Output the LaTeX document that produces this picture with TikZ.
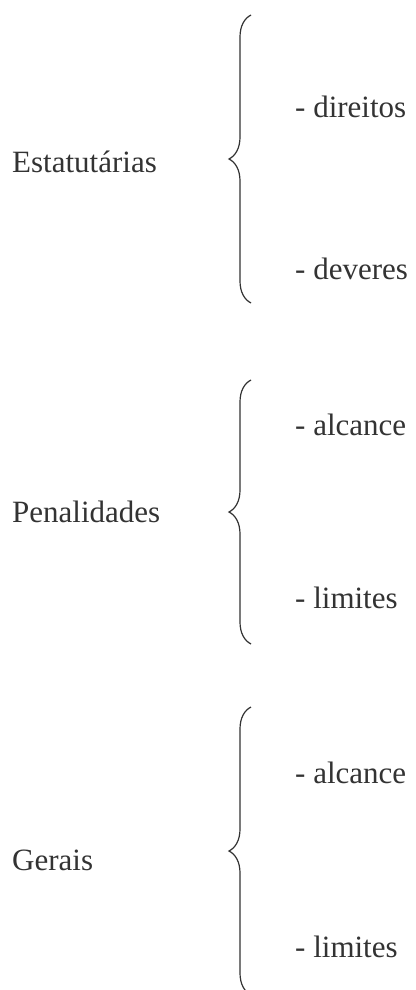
\documentclass[tikz,border=0pt]{standalone}
\usepackage{fontspec}
\setmainfont{Liberation Serif}
\usepackage{xcolor}
\usetikzlibrary{decorations.pathreplacing}

\begin{document}
\begin{tikzpicture}[x=1pt, y=1pt, font=\fontsize{31}{37}\selectfont,
    texto/.style={anchor=base west, inner sep=0pt, text=black!80},
    chave/.style={draw=black!80, line width=1.2pt, decorate, decoration={brace, amplitude=22pt}}]
  \useasboundingbox (0,0) rectangle (415,-990);
  % Estatutarias
  \node[texto] (est) at (12,-172) {Estatutárias};
  \node[texto] (est1) at (295,-117) {- direitos};
  \node[texto] (est2) at (295,-279) {- deveres};
  \coordinate (c1a) at (251,-303);
  \coordinate (c1b) at (251,-15);
  \draw[chave] (c1a) -- (c1b);
  % Penalidades
  \node[texto] (pen) at (12,-522) {Penalidades};
  \node[texto] (pen1) at (295,-435) {- alcance};
  \node[texto] (pen2) at (295,-608) {- limites};
  \coordinate (c2a) at (251,-644);
  \coordinate (c2b) at (251,-380);
  \draw[chave] (c2a) -- (c2b);
  % Gerais
  \node[texto] (ger) at (12,-870) {Gerais};
  \node[texto] (ger1) at (295,-783) {- alcance};
  \node[texto] (ger2) at (295,-957) {- limites};
  \coordinate (c3a) at (251,-995);
  \coordinate (c3b) at (251,-707);
  \draw[chave] (c3a) -- (c3b);
\end{tikzpicture}
\end{document}
